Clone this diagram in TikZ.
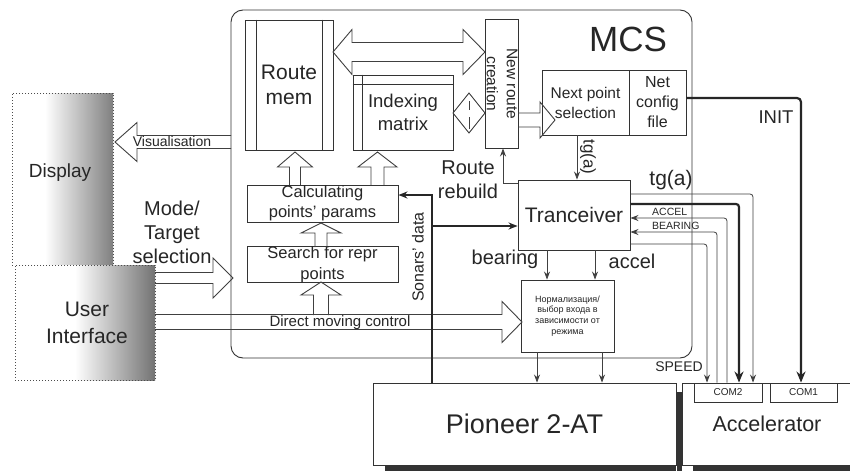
\documentclass[tikz,border=0pt]{standalone}
\usepackage{fontspec}
\setmainfont{Liberation Sans}
\usetikzlibrary{arrows.meta,calc}
\newcommand\fs[2]{\fontsize{#1}{#2}\selectfont}
\newcommand\HArr[6]{\draw[hol] (#1,#3-#4) -- (#6,#3-#4) -- (#6,#3-#5) -- (#2,#3) -- (#6,#3+#5) -- (#6,#3+#4) -- (#1,#3+#4);}
\newcommand\VArr[6]{\draw[hol] (#1-#4,#2) -- (#1-#4,#6) -- (#1-#5,#6) -- (#1,#3) -- (#1+#5,#6) -- (#1+#4,#6) -- (#1+#4,#2);}
\begin{document}
\begin{tikzpicture}[x=1pt,y=-1pt,
  box/.style={draw=black!80, line width=0.9pt, inner sep=0pt, align=center, text=black!85},
  boxline/.style={draw=black!80, line width=0.9pt},
  dotbox/.style={draw=black!70, line width=1pt, dotted, inner sep=0pt},
  hol/.style={draw=black!75, line width=0.9pt},
  lbl/.style={inner sep=0pt, align=center, text=black!85},
  thinarr/.style={draw=black!75, line width=0.8pt, -{Stealth[length=8pt,width=6pt]}},
  thickarr/.style={draw=black!85, line width=2.2pt, -{Stealth[length=11pt,width=9pt]}},
  sonar/.style={draw=black!85, line width=1.8pt, -{Stealth[length=9pt,width=7pt]}}]
\useasboundingbox (0,0) rectangle (850,471);
\fill[white] (0,0) rectangle (850,471);

% MCS frame
\node[box, rounded corners=12pt, minimum width=461pt, minimum height=348pt] (mcs) at (461.5,184) {};
\node[lbl, font=\fs{35}{40}] (mcslbl) at (628,39) {MCS};

% Display and user interface
\fill[white] (12,93) rectangle (45,265);
\shade[left color=white, right color=black!50] (45,93) rectangle (113,265);
\node[dotbox, minimum width=101pt, minimum height=172pt] (disp) at (62.5,179) {};
\node[lbl, font=\fs{19}{23}] (displbl) at (60,173) {Display};

\fill[white] (15,265) rectangle (75,380);
\shade[left color=white, right color=black!55] (75,265) rectangle (155,380);
\node[dotbox, minimum width=140pt, minimum height=115pt] (ui) at (85,322.5) {};
\node[lbl, font=\fs{21}{27}] (uilbl) at (87,323) {User\\Interface};

% inner boxes
\node[box, minimum width=88pt, minimum height=130pt, font=\fs{21}{25}] (rm) at (289,85) {Route\\mem};
\draw[boxline] ([xshift=12pt]rm.north west) -- ([xshift=12pt]rm.south west);
\draw[boxline] ([xshift=-11pt]rm.north east) -- ([xshift=-11pt]rm.south east);

\node[box, minimum width=100pt, minimum height=75pt, font=\fs{18.5}{23}] (im) at (403,112.5) {Indexing\\matrix};
\draw[boxline] ([yshift=-10pt]im.north west) -- ([yshift=-10pt]im.north east);
\draw[boxline] ([xshift=10pt]im.north west) -- ([xshift=10pt]im.south west);

\node[box, minimum width=33pt, minimum height=129pt] (nrc) at (501.5,83.5) {};
\node[lbl, rotate=-90, font=\fs{15.5}{20}] (nrct) at (502,84) {New route\\creation};

\node[box, minimum width=87pt, minimum height=65pt, font=\fs{15.5}{20}] (nps) at (585.5,102.5) {Next point\\selection};
\node[box, minimum width=57pt, minimum height=65pt, font=\fs{16}{20}] (ncf) at (657.5,102.5) {Net\\config\\file};

\node[box, minimum width=112pt, minimum height=70pt, font=\fs{21}{25}] (trx) at (574,215) {Tranceiver};

\node[box, minimum width=151pt, minimum height=37pt, font=\fs{16.5}{20}] (calc) at (322.5,203.5) {Calculating\\points' params};
\node[box, minimum width=151pt, minimum height=35pt, font=\fs{16.5}{21}] (srch) at (322.5,264.5) {Search for repr\\points};

\node[box, minimum width=93pt, minimum height=72pt, font=\fs{9}{10.7}] (norm) at (567.5,316) {Нормализация/\\выбор входа в\\зависимости от\\режима};

% Pioneer and Accelerator
\fill[black!80] (385,465) rectangle (676,471);
\fill[black!80] (677,392) rectangle (682,471);
\fill[black!80] (693,465) rectangle (850,471);
\node[box, fill=white, minimum width=303pt, minimum height=82pt, font=\fs{27}{30}] (pio) at (524.5,424) {Pioneer 2-AT};
\node[box, fill=white, minimum width=170pt, minimum height=82pt, font=\fs{21.5}{25}] (acc) at (767,424) {Accelerator};
\node[box, minimum width=68pt, minimum height=19pt, font=\fs{10}{12}] (com2) at (728,392.5) {COM2};
\node[box, minimum width=67pt, minimum height=19pt, font=\fs{10}{12}] (com1) at (803.5,392.5) {COM1};

% hollow arrows
\HArr{231}{115}{142}{6.5}{19.5}{137}
\node[lbl, font=\fs{14}{16}] (vislbl) at (172,141) {Visualisation};
\HArr{155}{233}{278}{5.5}{20}{213}
\HArr{155}{522}{322}{7.5}{20.5}{502}
\node[lbl, font=\fs{15}{17}] (dmclbl) at (340,323) {Direct moving control};
\VArr{295}{185}{152}{5.5}{17.5}{167}
\VArr{377.5}{185}{152}{6.5}{19.5}{167}
\VArr{321}{247}{223}{6}{20}{233}
\VArr{321}{315}{282}{7.5}{20}{295}
\HArr{518}{555}{120}{7}{18}{540}
% double arrow Route mem <-> New route creation
\draw[hol] (333,52) -- (352,29.5) -- (352,42.5) -- (463,42.5) -- (463,29.5) -- (485,52)
  -- (463,74.5) -- (463,61.5) -- (352,61.5) -- (352,74.5) -- cycle;
% small vertical double arrow Indexing <-> New route
\draw[hol] (469,93) -- (485,113) -- (469,133) -- (453,113) -- cycle;
\draw[hol] (469,101) -- (469,110);
\draw[hol] (469,117) -- (469,129);

% labels
\node[lbl, font=\fs{20}{24}] (modelbl) at (172,232) {Mode/\\Target\\selection};
\node[lbl, font=\fs{20}{24}] (rrlbl) at (468,180) {Route\\rebuild};
\node[lbl, font=\fs{20}{24}] (brlbl) at (505,259) {bearing};
\node[lbl, font=\fs{20}{24}] (aclbl) at (632,261) {accel};
\node[lbl, font=\fs{21}{24}] (tgalbl) at (671,180) {tg(a)};
\node[lbl, rotate=-90, font=\fs{17}{20}] (tgarot) at (588,157) {tg(a)};
\node[lbl, rotate=90, font=\fs{16}{20}] (sonlbl) at (418,257) {Sonars' data};
\node[lbl, font=\fs{18.5}{22}] (initlbl) at (776,117) {INIT};
\node[lbl, font=\fs{10.5}{12}, anchor=west] (acclbl) at (652,212) {ACCEL};
\node[lbl, font=\fs{10.5}{12}, anchor=west] (bearlbl) at (652,226) {BEARING};
\node[lbl, font=\fs{14}{16}] (spdlbl) at (679,367) {SPEED};

% thin connectors
\draw[thinarr] (577,0 |- nps.south) -- (577,0 |- trx.north);
\draw[thinarr] (trx.west |- 0,183) -| (503,0 |- nrc.south);
\draw[thinarr] (547,0 |- trx.south) -- (547,0 |- norm.north);
\draw[thinarr] (595,0 |- trx.south) -- (595,0 |- norm.north);
\draw[thinarr] (537,0 |- norm.south) -- (537,0 |- pio.north);
\draw[thinarr] (602,0 |- norm.south) -- (602,0 |- pio.north);

% sonars
\draw[sonar] (432,0 |- pio.north) |- (calc.east |- 0,195);
\draw[sonar] (432,226) -- (trx.west |- 0,226);

% right side buses
\draw[thinarr, rounded corners=3pt] (trx.east |- 0,194) -| (753,0 |- com2.north);
\draw[thickarr, rounded corners=3pt] (trx.east |- 0,204) -| (739,0 |- com2.north);
\draw[thinarr, rounded corners=3pt] (727,0 |- com2.north) |- (trx.east |- 0,218);
\draw[thinarr, rounded corners=3pt] (717,0 |- com2.north) |- (trx.east |- 0,232);
\draw[thinarr, rounded corners=3pt] (trx.east |- 0,244) -| (707,0 |- com2.north);
\draw[thickarr, rounded corners=4pt] (ncf.east |- 0,98) -| (801,0 |- com1.north);
\end{tikzpicture}
\end{document}
